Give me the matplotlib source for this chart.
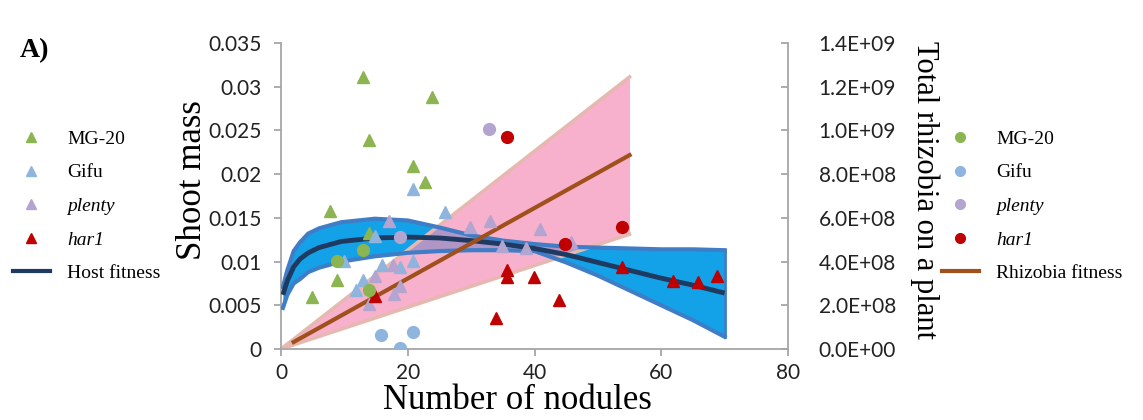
import numpy as np
import matplotlib
matplotlib.use("Agg")
import matplotlib.pyplot as plt
from matplotlib.lines import Line2D

# ---- data ----
# shoot mass (left axis) - triangles
mg20_tri_x = [12.9, 23.8, 13.9, 20.9, 22.8, 7.8, 13.9, 8.9, 4.9]
mg20_tri_y = [0.0311, 0.0288, 0.0239, 0.0209, 0.0191, 0.0158, 0.0133, 0.0079, 0.0060]
gifu_tri_x = [20.9, 25.9, 14.8, 10.0, 15.9, 18.8, 20.9, 12.9, 11.8]
gifu_tri_y = [0.0183, 0.0157, 0.0129, 0.0101, 0.0096, 0.0094, 0.0101, 0.0079, 0.0067]
plenty_tri_x = [17.0, 29.9, 32.9, 34.8, 38.6, 40.8, 45.8, 14.8, 17.7, 18.8, 17.8, 13.9]
plenty_tri_y = [0.0146, 0.0139, 0.0146, 0.0118, 0.0115, 0.0137, 0.0122, 0.0083, 0.0096, 0.0072, 0.0063, 0.0052]
har1_tri_x = [14.8, 35.7, 35.7, 39.9, 33.9, 43.9, 53.8, 61.8, 65.8, 68.8]
har1_tri_y = [0.0061, 0.0090, 0.0082, 0.0082, 0.0035, 0.0056, 0.0094, 0.0078, 0.0077, 0.0083]

# total rhizobia (right axis) - circles
mg20_dot_x = [12.9, 8.9, 13.9]
mg20_dot_y = [4.52e8, 4.04e8, 2.68e8]
gifu_dot_x = [15.8, 18.8, 20.9]
gifu_dot_y = [6.4e7, 4e6, 7.6e7]
plenty_dot_x = [32.8, 18.8]
plenty_dot_y = [1.008e9, 5.12e8]
har1_dot_x = [35.7, 44.8, 53.8]
har1_dot_y = [9.72e8, 4.8e8, 5.56e8]

# host fitness fit and band
host_x = [0.3, 1, 2, 3, 4.3, 6, 9.5, 14.8, 20, 25, 30, 35, 40, 45, 50, 55, 60, 65, 70]
host_fit = [0.0062, 0.0078, 0.0094, 0.0103, 0.0110, 0.0116, 0.0123, 0.0127, 0.0128, 0.0127,
            0.0124, 0.0120, 0.0115, 0.0108, 0.0099, 0.0090, 0.0081, 0.0073, 0.0064]
host_hi = [0.0071, 0.0090, 0.0112, 0.0122, 0.0132, 0.0138, 0.0145, 0.0149, 0.0147, 0.0139,
           0.0130, 0.0124, 0.0120, 0.0117, 0.0116, 0.0115, 0.0114, 0.0114, 0.0113]
host_lo = [0.0047, 0.0062, 0.0075, 0.0080, 0.0088, 0.0093, 0.0100, 0.0106, 0.0110, 0.0112,
           0.0113, 0.0113, 0.0112, 0.0099, 0.0084, 0.0067, 0.0050, 0.0033, 0.0014]

# rhizobia fitness fit and band
rhiz_band_x = [0, 55]
rhiz_lo = [0, 5.25e8]
rhiz_hi = [0, 1.245e9]
rhiz_fit_x = [2, 55]
rhiz_fit_y = [3.2e7, 8.87e8]

c_green = '#8cb552'
c_blue = '#8fb4de'
c_purple = '#b4a4d0'
c_red = '#c00000'
c_navy = '#1f3a60'
c_brown = '#a0501a'
serif = 'Liberation Serif'
tickfont = 'Lato'

fig = plt.figure(figsize=(11.43, 4.2), dpi=100)
ax = fig.add_axes([281/1143, 1 - 349/420, 507/1143, 306/420])
ax2 = ax.twinx()
ax.set_xlim(0, 80)
ax.set_ylim(0, 0.035)
ax2.set_ylim(0, 1.4e9)
rt = ax2.transData

# host band
ax.fill_between(host_x, host_lo, host_hi, color='#13a2e8', lw=0, zorder=1)
# rhizobia band on right-axis scale
ax.fill_between(rhiz_band_x, rhiz_lo, rhiz_hi, color='#f590b8', alpha=0.7, lw=0,
                transform=rt, zorder=2)
ax.plot(rhiz_band_x, rhiz_hi, color='#e6b8b0', lw=2.5, transform=rt, zorder=2.5)
ax.plot(rhiz_band_x, rhiz_lo, color='#e6b8b0', lw=2.5, transform=rt, zorder=2.5)
ax.plot(host_x, host_hi, color='#3f7ec6', lw=3, zorder=3)
ax.plot(host_x, host_lo, color='#3f7ec6', lw=3, zorder=3)
ax.plot([host_x[-1], host_x[-1]], [host_lo[-1], host_hi[-1]], color='#3f7ec6', lw=2, zorder=3)
ax.plot(host_x, host_fit, color=c_navy, lw=3.5, zorder=3.5, solid_capstyle='butt')
ax.plot(rhiz_fit_x, rhiz_fit_y, color=c_brown, lw=3, transform=rt, zorder=4)

ms = 8.5
for xs, ys, c in [(mg20_tri_x, mg20_tri_y, c_green), (gifu_tri_x, gifu_tri_y, c_blue),
                  (plenty_tri_x, plenty_tri_y, c_purple), (har1_tri_x, har1_tri_y, c_red)]:
    ax.plot(xs, ys, ls='none', marker='^', ms=ms, color=c, mec=c, zorder=5)
for xs, ys, c in [(mg20_dot_x, mg20_dot_y, c_green), (gifu_dot_x, gifu_dot_y, c_blue),
                  (plenty_dot_x, plenty_dot_y, c_purple), (har1_dot_x, har1_dot_y, c_red)]:
    ax.plot(xs, ys, ls='none', marker='o', ms=ms, color=c, mec=c, transform=rt, zorder=5)

ax.set_xlim(0, 80)
ax.set_ylim(0, 0.035)

# axes styling
for a in (ax, ax2):
    for s in a.spines.values():
        s.set_color('#a6a6a6')
        s.set_linewidth(1.3)
    a.spines['top'].set_visible(False)
ax.spines['right'].set_visible(False)
ax2.spines['left'].set_visible(False)
ax2.spines['bottom'].set_visible(False)

ax.set_xticks([0, 20, 40, 60, 80])
ax.set_yticks(np.arange(0, 0.0351, 0.005))
ax.set_yticklabels(['0', '0.005', '0.01', '0.015', '0.02', '0.025', '0.03', '0.035'])
ax2.set_yticks(np.arange(0, 1.41e9, 2e8))
ax2.set_yticklabels(['0.0E+00', '2.0E+08', '4.0E+08', '6.0E+08', '8.0E+08',
                     '1.0E+09', '1.2E+09', '1.4E+09'])
ax.tick_params(axis='x', direction='out', length=5, width=1.3, color='#a6a6a6',
               labelsize=15, labelcolor='#222222', pad=5)
ax.tick_params(axis='y', direction='out', length=5, width=1.3, color='#a6a6a6',
               labelsize=15, labelcolor='#222222', pad=9)
ax2.tick_params(axis='y', direction='in', length=5, width=1.3, color='#a6a6a6',
                labelsize=15, labelcolor='#222222', pad=22)
for lab in ax.get_xticklabels() + ax.get_yticklabels() + ax2.get_yticklabels():
    lab.set_family(tickfont)

ax.set_ylabel('Shoot mass', fontsize=25, family=serif)
ax.yaxis.set_label_coords(-0.142, 0.552)
ax.set_xlabel('Number of nodules', fontsize=25, family=serif, va='top')
ax.xaxis.set_label_coords(0.467, -0.115)
ax2.set_ylabel('Total rhizobia on a plant', fontsize=22, family=serif, rotation=270)
ax2.yaxis.set_label_coords(1.27, 0.52)
ax2.yaxis.label.set_va('center')

fig.text(0.017, 0.88, 'A)', fontsize=20, fontweight='bold', family=serif, va='center')

# legends
def tri(c):
    return Line2D([], [], ls='none', marker='^', ms=7, color=c)

def dot(c):
    return Line2D([], [], ls='none', marker='o', ms=7, color=c)

names = ['MG-20', 'Gifu', 'plenty', 'har1']
cols = [c_green, c_blue, c_purple, c_red]
leg_kw = dict(frameon=False, loc='center left', borderpad=0, borderaxespad=0,
              handlelength=1.9, handletextpad=0.9, labelspacing=0.82,
              prop={'family': serif, 'size': 14})
h1 = [tri(c) for c in cols] + [Line2D([], [], color=c_navy, lw=3)]
leg1 = fig.legend(h1, names + ['Host fitness'], bbox_to_anchor=(13/1143, 0.509), **leg_kw)
h2 = [dot(c) for c in cols] + [Line2D([], [], color=c_brown, lw=3)]
leg2 = fig.legend(h2, names + ['Rhizobia fitness'], bbox_to_anchor=(942/1143, 0.509), **leg_kw)
for lg in (leg1, leg2):
    for t in lg.get_texts()[2:4]:
        t.set_style('italic')

fig.savefig('out.png', dpi=100)
